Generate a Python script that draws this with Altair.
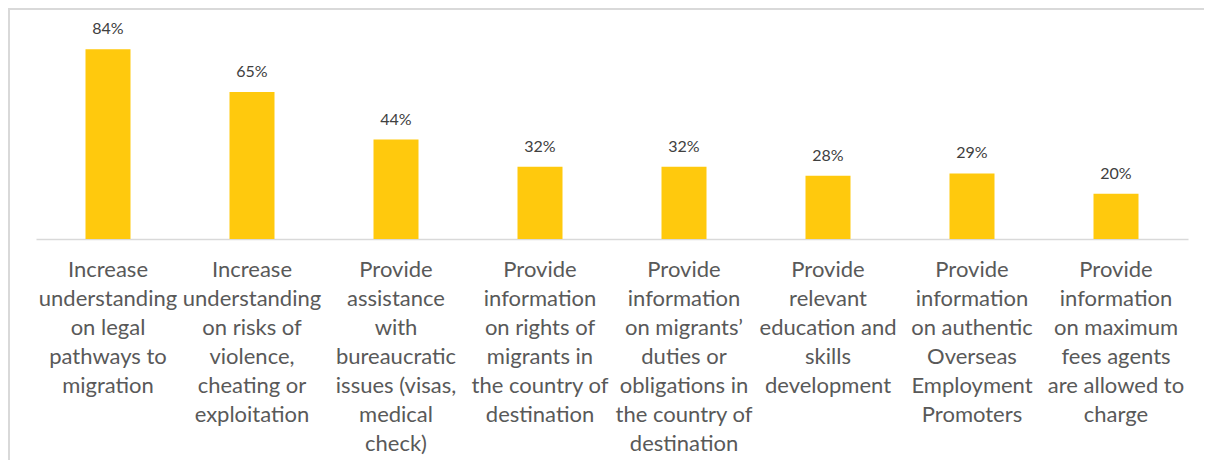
import altair as alt
import pandas as pd

categories = [
    "Increase|understanding|on legal|pathways to|migration",
    "Increase|understanding|on risks of|violence,|cheating or|exploitation",
    "Provide|assistance|with|bureaucratic|issues (visas,|medical|check)",
    "Provide|information|on rights of|migrants in|the country of|destination",
    "Provide|information|on migrants’|duties or|obligations in|the country of|destination",
    "Provide|relevant|education and|skills|development",
    "Provide|information|on authentic|Overseas|Employment|Promoters",
    "Provide|information|on maximum|fees agents|are allowed to|charge",
]
values = [84, 65, 44, 32, 32, 28, 29, 20]
value_labels = ["84%", "65%", "44%", "32%", "32%", "28%", "29%", "20%"]

df = pd.DataFrame({"cat": categories, "val": values, "lab": value_labels})

x = alt.X(
    "cat:N",
    sort=categories,
    scale=alt.Scale(paddingInner=0.6875, paddingOuter=0.34375),
    axis=alt.Axis(
        title=None,
        labelAngle=0,
        labelExpr="split(datum.label, '|')",
        labelFont="Lato",
        labelFontSize=22,
        labelColor="#595959",
        labelLineHeight=29,
        labelPadding=20,
        labelBaseline="top",
        labelLimit=0,
        labelOverlap=False,
        ticks=False,
        domainColor="#D9D9D9",
        domainWidth=1.5,
    ),
)
y = alt.Y("val:Q", scale=alt.Scale(domain=[0, 100]), axis=None)

bars = alt.Chart(df).mark_bar(color="#FFC90D").encode(x=x, y=y)
texts = alt.Chart(df).mark_text(
    font="Lato", fontSize=16, color="#404040", baseline="alphabetic", dy=-15
).encode(x=alt.X("cat:N", sort=categories), y=y, text="lab:N")

one = alt.Data(values=[{"a": 1}])
top_edge = alt.Chart(one).mark_rule(color="#D9D9D9", strokeWidth=2).encode(
    x=alt.value(-28), x2=alt.value(1168), y=alt.value(-4)
)
left_edge = alt.Chart(one).mark_rule(color="#D9D9D9", strokeWidth=2).encode(
    x=alt.value(-27), y=alt.value(-5), y2=alt.value(447)
)

chart = alt.layer(top_edge, left_edge, bars, texts).properties(
    width=1152,
    height=226,
    padding={"left": 28, "top": 5, "right": 16, "bottom": 221},
    autosize=alt.AutoSizeParams(type="none"),
).configure_view(strokeWidth=0)

chart.save("out.html", embed_options={"renderer": "svg", "actions": False})
